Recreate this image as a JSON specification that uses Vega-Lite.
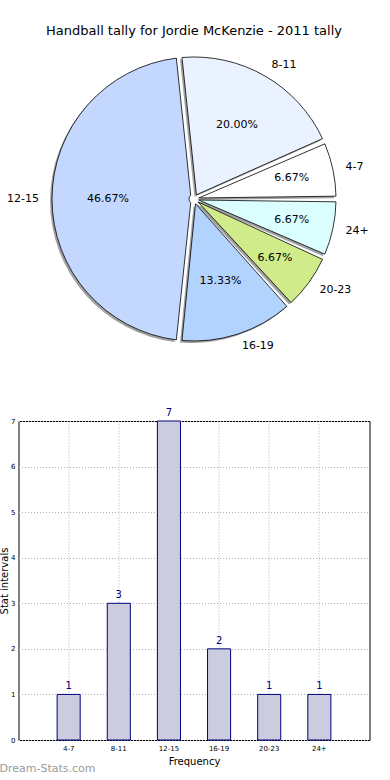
{
  "$schema": "https://vega.github.io/schema/vega-lite/v6.json",
  "padding": {"left": -1.5, "top": 25, "right": 0, "bottom": 0},
  "autosize": {"type": "pad"},
  "background": "white",
  "config": {
    "font": "DejaVu Sans",
    "text": {"font": "DejaVu Sans"},
    "axis": {"labelFont": "DejaVu Sans", "titleFont": "DejaVu Sans", "titleFontWeight": "normal"},
    "title": {"font": "DejaVu Sans", "fontWeight": "normal"}
  },
  "datasets": {
    "tally": [
      {"cat": "4-7", "idx": 1, "count": 1, "pct": "6.67%"},
      {"cat": "8-11", "idx": 2, "count": 3, "pct": "20.00%"},
      {"cat": "12-15", "idx": 3, "count": 7, "pct": "46.67%"},
      {"cat": "16-19", "idx": 4, "count": 2, "pct": "13.33%"},
      {"cat": "20-23", "idx": 5, "count": 1, "pct": "6.67%"},
      {"cat": "24+", "idx": 6, "count": 1, "pct": "6.67%"}
    ]
  },
  "vconcat": [
    {
      "width": 351,
      "height": 318,
      "view": {"stroke": null},
      "title": {"text": "Handball tally for Jordie McKenzie - 2011 tally", "fontSize": 13, "color": "black", "offset": 2, "frame": "group"},
      "data": {"name": "tally"},
      "encoding": {
        "theta": {"field": "count", "type": "quantitative", "stack": true, "scale": {"range": [1.5707963, 7.8539816]}},
        "order": {"field": "idx", "type": "quantitative", "sort": "descending"}
      },
      "layer": [
        {
          "mark": {"type": "arc", "outerRadius": 142, "innerRadius": 5, "padAngle": 0.04, "fill": "#8a8a8a", "xOffset": -2, "yOffset": 2, "opacity": 0.8}
        },
        {
          "mark": {"type": "arc", "outerRadius": 142, "innerRadius": 5, "padAngle": 0.04, "stroke": "black", "strokeWidth": 0.8},
          "encoding": {
            "color": {
              "field": "cat", "type": "nominal", "legend": null,
              "scale": {
                "domain": ["4-7", "8-11", "12-15", "16-19", "20-23", "24+"],
                "range": ["#ffffff", "#eaf2ff", "#c4d8ff", "#b3d3ff", "#cfeb8a", "#dbffff"]
              }
            }
          }
        },
        {
          "mark": {"type": "text", "radius": {"expr": "datum.count < 2 ? 100 : 86"}, "fontSize": 11, "color": "black"},
          "encoding": {"text": {"field": "pct"}}
        },
        {
          "mark": {"type": "text", "radius": 155, "fontSize": 11, "color": "black", "align": {"expr": "datum.cat === '12-15' ? 'right' : 'left'"}},
          "encoding": {"text": {"field": "cat"}}
        }
      ]
    },
    {
      "width": 351,
      "height": 319,
      "view": {"stroke": "black", "strokeWidth": 1},
      "title": {"text": "Dream-Stats.com", "orient": "bottom", "anchor": "start", "frame": "group", "fontSize": 11, "color": "#9a9a9a", "dx": -19, "offset": -3},
      "data": {"name": "tally"},
      "encoding": {
        "x": {
          "field": "cat", "type": "nominal", "sort": {"field": "idx"},
          "scale": {"paddingInner": 0.54, "paddingOuter": 0.77},
          "axis": {"title": "Frequency", "titleFontSize": 10, "titlePadding": 5, "labelFontSize": 7, "labelAngle": 0, "labelPadding": 4, "labelColor": "black", "ticks": false, "domain": false, "grid": true, "gridDash": [1, 2], "gridColor": "#b0b0b0", "bandPosition": 0.5}
        },
        "y": {
          "field": "count", "type": "quantitative",
          "scale": {"domain": [0, 7], "nice": false},
          "axis": {"title": "Stat intervals", "titleFontSize": 10, "titlePadding": 1.5, "labelFontSize": 7, "labelPadding": 3.5, "labelColor": "black", "minExtent": 0, "values": [0, 1, 2, 3, 4, 5, 6, 7], "ticks": false, "domain": false, "grid": true, "gridDash": [1, 2], "gridColor": "#b0b0b0"}
        }
      },
      "layer": [
        {"mark": {"type": "bar", "fill": "#ccccdf", "stroke": "#000080", "strokeWidth": 1}},
        {"mark": {"type": "text", "baseline": "bottom", "dy": -3, "fontSize": 10, "color": "#000080"}, "encoding": {"text": {"field": "count"}}}
      ]
    }
  ],
  "spacing": 63,
  "bounds": "flush"
}
